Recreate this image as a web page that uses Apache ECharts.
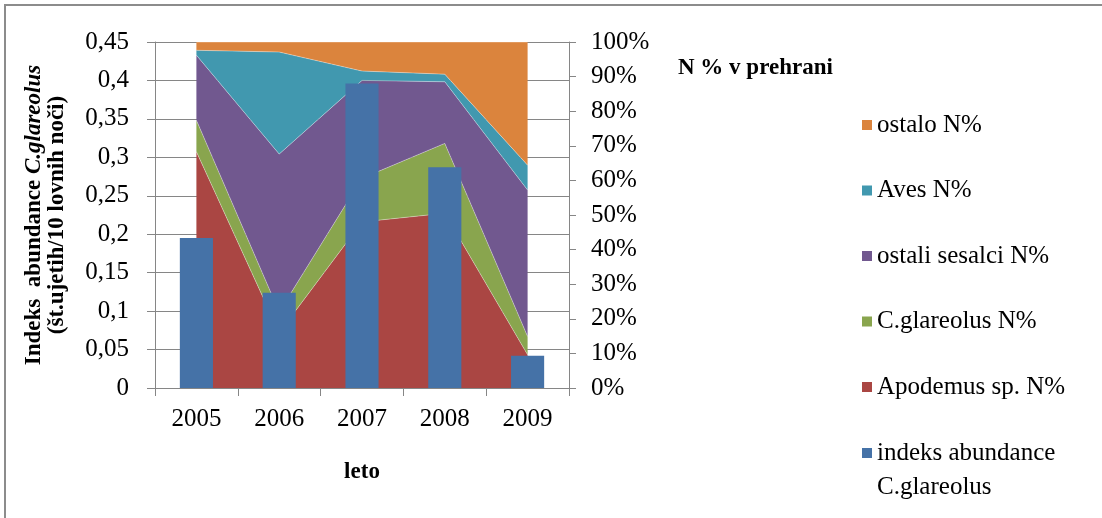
<!DOCTYPE html>
<html>
<head>
<meta charset="utf-8">
<script src="https://cdn.jsdelivr.net/npm/echarts@6/dist/echarts.min.js"></script>
<style>
  html, body { margin: 0; padding: 0; background: #ffffff; }
  #chart { width: 1102px; height: 518px; }
</style>
</head>
<body>
<div id="chart"></div>
<script>
// Years on the category axis
const years = ['2005', '2006', '2007', '2008', '2009'];

// Diet composition, share of prey items (N %), stacked bottom to top
const apodemus      = [68.3, 16.0, 48.0, 50.5, 9.6];
const glareolusPct  = [9.1, 6.0, 12.6, 20.2, 5.3];
const ostaliSesalci = [18.8, 45.6, 28.3, 17.8, 42.3];
const aves          = [1.4, 29.5, 2.7, 2.2, 7.2];
const ostalo        = [2.4, 2.9, 8.4, 9.3, 35.6];

// Abundance index of C. glareolus (left axis)
const abundance = [0.195, 0.124, 0.396, 0.287, 0.042];

// Series names as shown in the legend
const names = {
  apodemus: 'Apodemus sp. N%',
  glareolus: 'C.glareolus N%',
  sesalci: 'ostali sesalci N%',
  aves: 'Aves N%',
  ostalo: 'ostalo N%',
  index: 'indeks abundance C.glareolus'
};

const FONT = '"Liberation Serif", "Times New Roman", serif';
const GRID_GREY = '#868686';
const LEGEND_TEXT = { fontFamily: FONT, fontSize: 25, color: '#000', lineHeight: 34 };

const chart = echarts.init(document.getElementById('chart'), null, { renderer: 'canvas' });

function areaSeries(name, data, color) {
  return {
    name: name,
    type: 'line',
    yAxisIndex: 1,
    stack: 'diet',
    data: data,
    symbol: 'none',
    smooth: false,
    lineStyle: { width: 1, color: 'rgba(255,255,255,0.35)' },
    itemStyle: { color: color },
    areaStyle: { color: color, opacity: 1 },
    z: 2,
    silent: true
  };
}

const option = {
  animation: false,
  textStyle: { fontFamily: FONT, color: '#000' },
  title: {
    text: 'N % v prehrani',
    left: 678,
    top: 57,
    padding: 0,
    textStyle: { fontFamily: FONT, fontSize: 23, fontWeight: 'bold', color: '#000' }
  },
  legend: [{
    orient: 'vertical',
    left: 862,
    top: 108,
    padding: 0,
    itemWidth: 10,
    itemHeight: 10,
    itemGap: 31.5,
    icon: 'rect',
    data: [names.ostalo, names.aves, names.sesalci, names.glareolus, names.apodemus],
    textStyle: LEGEND_TEXT
  }, {
    // bar entry: two-line label, marker level with the first line
    orient: 'vertical',
    left: 862,
    top: 436,
    padding: 0,
    itemWidth: 10,
    itemHeight: 44,
    data: [{ name: names.index, icon: 'path://M0,0H10V10H0Z M0,43.99H0.01V44H0Z' }],
    formatter: function () { return 'indeks abundance\nC.glareolus'; },
    textStyle: LEGEND_TEXT
  }],
  graphic: [{
    type: 'rect',
    shape: { x: 5, y: 5, width: 1300, height: 700 },
    style: { fill: 'none', stroke: '#8c8c8c', lineWidth: 2 },
    silent: true,
    z: -10
  }],
  grid: { left: 155, right: 533, top: 42, bottom: 130 },
  xAxis: {
    type: 'category',
    data: years,
    boundaryGap: true,
    name: 'leto',
    nameLocation: 'middle',
    nameGap: 73,
    nameTextStyle: { fontFamily: FONT, fontSize: 23, fontWeight: 'bold', color: '#000' },
    axisLine: { lineStyle: { color: GRID_GREY, width: 1 } },
    axisTick: { show: true, length: 8, alignWithLabel: false, lineStyle: { color: GRID_GREY } },
    axisLabel: { fontFamily: FONT, fontSize: 25, color: '#000', margin: 19 },
    splitLine: { show: false }
  },
  yAxis: [{
    type: 'value',
    min: 0,
    max: 0.45,
    interval: 0.05,
    position: 'left',
    name: '{b|Indeks  abundance }{bi|C.glareolus}\n{b|(št.ujetih/10 lovnih noči)}',
    nameLocation: 'middle',
    nameRotate: 90,
    nameGap: 86,
    nameTextStyle: {
      fontFamily: FONT,
      color: '#000',
      lineHeight: 23,
      rich: {
        b: { fontFamily: FONT, fontSize: 23, fontWeight: 'bold', color: '#000', lineHeight: 23 },
        bi: { fontFamily: FONT, fontSize: 23, fontWeight: 'bold', fontStyle: 'italic', color: '#000', lineHeight: 23 }
      }
    },
    axisLine: { show: true, lineStyle: { color: GRID_GREY, width: 1 } },
    axisTick: { show: true, length: 8, lineStyle: { color: GRID_GREY } },
    axisLabel: {
      fontFamily: FONT, fontSize: 25, color: '#000', margin: 26,
      formatter: function (v) { return String(+v.toFixed(2)).replace('.', ','); }
    },
    splitLine: { show: true, lineStyle: { color: GRID_GREY, width: 1 } }
  }, {
    type: 'value',
    min: 0,
    max: 100,
    interval: 10,
    position: 'right',
    axisLine: { show: true, lineStyle: { color: GRID_GREY, width: 1 } },
    axisTick: { show: true, length: 7, lineStyle: { color: GRID_GREY } },
    axisLabel: { fontFamily: FONT, fontSize: 25, color: '#000', margin: 22, formatter: '{value}%' },
    splitLine: { show: false }
  }],
  series: [
    areaSeries(names.apodemus, apodemus, '#AA4643'),
    areaSeries(names.glareolus, glareolusPct, '#89A54E'),
    areaSeries(names.sesalci, ostaliSesalci, '#71588F'),
    areaSeries(names.aves, aves, '#4198AF'),
    areaSeries(names.ostalo, ostalo, '#DB843D'),
    {
      name: names.index,
      type: 'bar',
      yAxisIndex: 0,
      data: abundance,
      barWidth: '40%',
      itemStyle: { color: '#4572A7' },
      z: 5,
      silent: true
    }
  ]
};

chart.setOption(option);
</script>
</body>
</html>
